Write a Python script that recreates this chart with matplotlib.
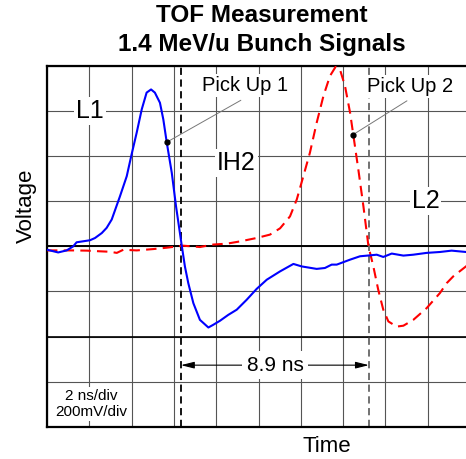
import numpy as np
import matplotlib
matplotlib.use('Agg')
import matplotlib.pyplot as plt

plt.rcParams['font.family'] = ['Liberation Sans', 'DejaVu Sans']

# time in ns, signal in mV (2 ns/div, 200 mV/div)
t_pu1 = [0.00, 0.53, 0.93, 1.24, 1.40, 2.03, 2.27, 2.59, 2.82, 3.06, 3.45, 3.77, 4.00,
         4.24, 4.48, 4.71, 4.92, 5.10, 5.34, 5.50, 5.66, 5.90, 6.10, 6.37, 6.52, 6.68,
         6.92, 7.23, 7.63, 7.86, 8.18, 8.57, 8.97, 9.44, 9.91, 10.39, 11.02, 11.65,
         12.04, 12.75, 13.14, 13.46, 13.70, 14.33, 14.80, 15.27, 15.59, 15.90, 16.30,
         16.85, 17.32, 17.95, 18.58, 19.13, 19.81, 20.0]
v_pu1 = [-15, -27, -18, 0, 18, 27, 37, 59, 82, 119, 222, 311, 408,
         504, 608, 682, 696, 682, 637, 563, 462, 326, 178, 4, -89, -163,
         -252, -326, -360, -348, -330, -304, -281, -237, -189, -148, -111, -78,
         -89, -100, -96, -81, -81, -59, -44, -40, -37, -47, -32,
         -41, -37, -29, -25, -19, -25, -25]

t_pu2 = [0.00, 0.61, 1.24, 1.88, 2.51, 2.98, 3.30, 3.61, 4.24, 5.03, 5.66, 6.44, 7.23,
         7.86, 8.51, 9.13, 9.91, 10.54, 11.02, 11.49, 11.81, 12.12, 12.43, 12.75, 13.07,
         13.38, 13.65, 13.85, 14.09, 14.33, 14.48, 14.72, 14.96, 15.20, 15.43, 15.66,
         15.90, 16.14, 16.53, 16.85, 17.32, 17.95, 18.58, 18.90, 19.21, 19.81, 20.0]
v_pu2 = [-18, -18, -18, -19, -22, -24, -29, -15, -18, -12, -6, 3, -3,
         8, 12, 22, 37, 52, 80, 133, 208, 311, 415, 548, 667,
         756, 797, 785, 711, 593, 496, 341, 178, 0, -89, -192,
         -281, -333, -356, -352, -326, -274, -207, -163, -133, -89, -75]

t_cross1 = 6.33
t_cross2 = 15.22
mark1 = (5.66, 462)
mark2 = (14.48, 496)

fig = plt.figure(figsize=(4.66, 4.59), dpi=100)
ax = fig.add_axes([47 / 466, 32.3 / 459, 423 / 466, 360.7 / 459])
ax.set_xlim(0, 20)
ax.set_ylim(-800, 800)
ax.set_xticks(np.arange(0, 21, 2))
ax.set_yticks(np.arange(-800, 801, 200))
ax.tick_params(length=0, labelbottom=False, labelleft=False)
ax.grid(color='#555555', lw=0.8, zorder=0)
ax.set_axisbelow(True)
for s in ['left', 'top', 'bottom']:
    ax.spines[s].set_linewidth(1.6)
ax.spines['right'].set_visible(False)

ax.axhline(0, color='black', lw=1.4, zorder=1)
ax.axhline(-400, color='black', lw=1.2, zorder=1)

ax.axvline(t_cross1, color='black', lw=1.3, ls=(0, (4, 2.5)), zorder=2)
ax.axvline(t_cross2, color='#666666', lw=1.3, ls=(0, (4, 2.5)), zorder=2)

ax.plot(t_pu2, v_pu2, color='#ff0000', lw=1.5, ls=(0, (5, 3)), zorder=3)
ax.plot(t_pu1, v_pu1, color='#0000ff', lw=1.5, solid_joinstyle='round', zorder=3)

# pick-up labels
ax.annotate('', xy=mark1, xytext=(9.28, 654),
            arrowprops=dict(arrowstyle='-', color='#777777', lw=0.7), zorder=4)
ax.annotate('', xy=mark2, xytext=(17.13, 652),
            arrowprops=dict(arrowstyle='-', color='#777777', lw=0.7), zorder=4)
ax.plot(*mark1, 'o', color='black', ms=3.5, zorder=5)
ax.plot(*mark2, 'o', color='black', ms=3.5, zorder=5)

box = dict(facecolor='white', edgecolor='none', pad=1.5)
ax.text(9.36, 714, 'Pick Up 1', fontsize=14.5, ha='center', va='center', bbox=box, zorder=6)
ax.text(17.18, 708, 'Pick Up 2', fontsize=14.5, ha='center', va='center', bbox=box, zorder=6)
ax.text(2.03, 600, 'L1', fontsize=18, ha='center', va='center', bbox=box, zorder=6)
ax.text(8.95, 371, 'IH2', fontsize=18, ha='center', va='center', bbox=box, zorder=6)
ax.text(17.9, 200, 'L2', fontsize=18, ha='center', va='center', bbox=box, zorder=6)
ax.text(2.1, -700, '2 ns/div\n200mV/div', fontsize=11, ha='center', va='center',
        multialignment='center', linespacing=1.15, bbox=box, zorder=6)

# time-of-flight arrow
ax.annotate('', xy=(t_cross1, -527), xytext=(t_cross2, -527),
            arrowprops=dict(arrowstyle='<|-|>,head_length=0.8,head_width=0.2',
                            color='black', lw=0.8, shrinkA=0, shrinkB=0), zorder=5)
ax.text(10.78, -527, '8.9 ns', fontsize=15, ha='center', va='center',
        bbox=dict(facecolor='white', edgecolor='none', pad=3), zorder=6)

fig.text(262 / 466, 1 - 16 / 459, 'TOF Measurement', fontsize=17.5, fontweight='bold',
         ha='center', va='center')
fig.text(262 / 466, 1 - 44 / 459, '1.4 MeV/u Bunch Signals', fontsize=17.5,
         fontweight='bold', ha='center', va='center')
fig.text(26 / 466, 1 - 206 / 459, 'Voltage', fontsize=16, rotation=90,
         ha='center', va='center')
fig.text(327 / 466, 1 - 447 / 459, 'Time', fontsize=16, ha='center', va='center')

fig.savefig('out.png', dpi=100)
